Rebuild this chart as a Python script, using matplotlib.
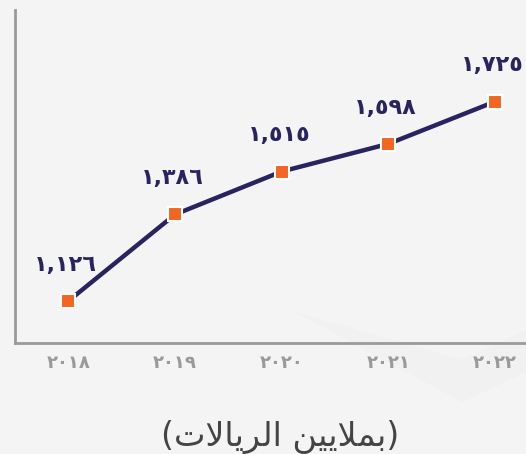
import matplotlib
matplotlib.use('Agg')
import matplotlib.pyplot as plt
from matplotlib.patches import Polygon

# data
years = ['٢٠١٨', '٢٠١٩', '٢٠٢٠', '٢٠٢١', '٢٠٢٢']
values = [1126, 1386, 1515, 1598, 1725]
value_labels = ['١,١٢٦', '١,٣٨٦', '١,٥١٥', '١,٥٩٨', '١,٧٢٥']
# "(بملايين الريالات)" in presentation forms, visual order
unit_label = '(' + '\ufe95\ufefb\ufe8e\ufef3\ufeae\ufedf\ufe8d' + ' ' + '\ufee6\ufef4\ufef3\ufefc\ufee4\ufe91' + ')'

plt.rcParams['font.family'] = ['DejaVu Sans']

bg = '#f4f4f4'
fig = plt.figure(figsize=(5.26, 4.54), dpi=100, facecolor=bg)

# faint background chevron
fig.patches.append(Polygon([(295/526, 1-312/454), (462/526, 1-402/454), (1.0, 1-372/454), (1.0, 1-330/454), (462/526, 1-360/454)],
                           closed=True, transform=fig.transFigure, facecolor='#f1f1f1', edgecolor='none', zorder=-1))

ax = fig.add_axes([15/526, 1-343/454, 1-15/526, 333/454])
ax.set_facecolor('none')
ax.set_zorder(2)

x = list(range(len(years)))
ax.plot(x, values, color='#28245f', lw=3.2, zorder=2,
        marker='s', markersize=10, markerfacecolor='#f26522', markeredgecolor='white', markeredgewidth=1.5)

for xi, v, lab in zip(x, values, value_labels):
    ax.annotate(lab, (xi, v), xytext=(-2, 26), textcoords='offset points', ha='center', va='center',
                fontsize=16, fontweight='bold', color='#28245f')

ax.set_xlim(-0.5, 4.29)
ax.set_ylim(1000, 2000)
ax.set_xticks(x)
ax.set_xticklabels(years, fontsize=13, fontweight='bold', color='#9a9a9a')
ax.set_yticks([])
ax.tick_params(axis='x', length=0, pad=8)
for s in ['top', 'right']:
    ax.spines[s].set_visible(False)
for s in ['left', 'bottom']:
    ax.spines[s].set_color('#9a9a9a')
    ax.spines[s].set_linewidth(2)

fig.text(280/526, 1-437/454, unit_label, ha='center', va='center', fontsize=24, color='#444444')

fig.savefig('out.png', dpi=100, facecolor=bg)
